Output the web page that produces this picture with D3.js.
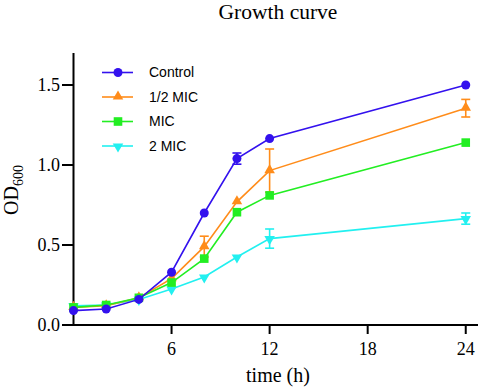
<!DOCTYPE html>
<html>
<head>
<meta charset="utf-8">
<script src="https://cdn.jsdelivr.net/npm/d3@7/dist/d3.min.js"></script>
<style>
  html, body { margin: 0; padding: 0; background: #fff; }
  svg { display: block; }
</style>
</head>
<body>
<svg id="chart" width="484" height="389"></svg>
<script>
// ---- data ----
const times = [0, 2, 4, 6, 8, 10, 12, 24];
const seriesNames = ["Control", "1/2 MIC", "MIC", "2 MIC"];
const controlValues = [0.09, 0.10, 0.16, 0.33, 0.70, 1.04, 1.165, 1.50];
const controlErrors = [0.01, 0.01, 0.01, 0.01, 0.01, 0.035, 0.01, 0.01];
const halfMicValues = [0.11, 0.12, 0.17, 0.29, 0.49, 0.77, 0.965, 1.355];
const halfMicErrors = [0.01, 0.01, 0.01, 0.01, 0.065, 0.01, 0.135, 0.055];
const micValues = [0.11, 0.125, 0.17, 0.265, 0.415, 0.705, 0.81, 1.14];
const micErrors = [0.01, 0.01, 0.01, 0.01, 0.01, 0.01, 0.01, 0.01];
const twoMicValues = [0.12, 0.125, 0.16, 0.225, 0.30, 0.425, 0.54, 0.665];
const twoMicErrors = [0.01, 0.01, 0.01, 0.01, 0.01, 0.01, 0.06, 0.035];
const yTicks = [0, 0.5, 1.0, 1.5];
const xTicks = [6, 12, 18, 24];
const titleText = "Growth curve";
const xTitle = "time (h)";

const colors = ["#3311ee", "#ff8c1a", "#22ee22", "#22f0f0"];
const shapes = [d3.symbolCircle, d3.symbolTriangle, d3.symbolSquare, "down"];

const series = [
  { name: seriesNames[0], values: controlValues, errors: controlErrors, color: colors[0], shape: shapes[0] },
  { name: seriesNames[1], values: halfMicValues, errors: halfMicErrors, color: colors[1], shape: shapes[1] },
  { name: seriesNames[2], values: micValues, errors: micErrors, color: colors[2], shape: shapes[2] },
  { name: seriesNames[3], values: twoMicValues, errors: twoMicErrors, color: colors[3], shape: shapes[3] }
];

const svg = d3.select("#chart");
const x = d3.scaleLinear().domain([0, 24.75]).range([73.5, 478]);
const y = d3.scaleLinear().domain([0, 1.7]).range([325, 53]);

function marker(g, s, cx, cy) {
  if (s.shape === d3.symbolCircle) {
    g.append("circle").attr("cx", cx).attr("cy", cy).attr("r", 4.5).attr("fill", s.color);
  } else if (s.shape === d3.symbolSquare) {
    g.append("rect").attr("x", cx - 4.3).attr("y", cy - 4.3).attr("width", 8.6).attr("height", 8.6).attr("fill", s.color);
  } else if (s.shape === d3.symbolTriangle) {
    g.append("path").attr("d", d3.symbol().type(d3.symbolTriangle).size(48)()).attr("transform", `translate(${cx},${cy - 0.5})`).attr("fill", s.color);
  } else {
    g.append("path").attr("d", d3.symbol().type(d3.symbolTriangle).size(48)()).attr("transform", `translate(${cx},${cy + 0.5}) rotate(180)`).attr("fill", s.color);
  }
}

// title
svg.append("text").attr("x", 278).attr("y", 19).attr("text-anchor", "middle")
  .attr("font-family", "Liberation Serif, Times New Roman, serif").attr("font-size", 21.5)
  .text(titleText);

// axes
const axisG = svg.append("g");
axisG.append("line").attr("x1", x(0)).attr("x2", x(0)).attr("y1", y(1.7)).attr("y2", y(0) + 1)
  .attr("stroke", "#000").attr("stroke-width", 2);
axisG.append("line").attr("x1", x(0) - 1).attr("x2", x(24.75)).attr("y1", y(0)).attr("y2", y(0))
  .attr("stroke", "#000").attr("stroke-width", 2);

yTicks.forEach(t => {
  axisG.append("line").attr("x1", 62).attr("x2", x(0)).attr("y1", y(t)).attr("y2", y(t))
    .attr("stroke", "#000").attr("stroke-width", 2);
  axisG.append("text").attr("x", 60).attr("y", y(t)).attr("dy", "0.34em").attr("text-anchor", "end")
    .attr("font-family", "Liberation Serif, Times New Roman, serif").attr("font-size", 18)
    .text(d3.format(".1f")(t));
});
xTicks.forEach(t => {
  axisG.append("line").attr("x1", x(t)).attr("x2", x(t)).attr("y1", y(0)).attr("y2", y(0) + 9)
    .attr("stroke", "#000").attr("stroke-width", 2);
  axisG.append("text").attr("x", x(t)).attr("y", 355).attr("text-anchor", "middle")
    .attr("font-family", "Liberation Serif, Times New Roman, serif").attr("font-size", 18)
    .text(t);
});

svg.append("text").attr("x", 278).attr("y", 382).attr("text-anchor", "middle")
  .attr("font-family", "Liberation Serif, Times New Roman, serif").attr("font-size", 20)
  .text(xTitle);

const yt = svg.append("text").attr("transform", "translate(18,190) rotate(-90)").attr("text-anchor", "middle")
  .attr("font-family", "Liberation Serif, Times New Roman, serif").attr("font-size", 20);
yt.append("tspan").text("OD");
yt.append("tspan").attr("font-size", 14).attr("dy", 5).text("600");

// series: draw order 2 MIC, 1/2 MIC, MIC, Control
const order = [3, 1, 2, 0];
const line = d3.line().x((d, i) => x(times[i])).y(d => y(d));
order.forEach(k => {
  const s = series[k];
  const g = svg.append("g");
  g.append("path").attr("d", line(s.values)).attr("fill", "none").attr("stroke", s.color).attr("stroke-width", 1.6);
  s.values.forEach((v, i) => {
    const e = s.errors[i];
    if (e > 0.015) {
      const cx = x(times[i]);
      g.append("line").attr("x1", cx).attr("x2", cx).attr("y1", y(v + e)).attr("y2", y(v - e)).attr("stroke", s.color).attr("stroke-width", 1.6);
      [v + e, v - e].forEach(w => {
        g.append("line").attr("x1", cx - 4.5).attr("x2", cx + 4.5).attr("y1", y(w)).attr("y2", y(w)).attr("stroke", s.color).attr("stroke-width", 1.6);
      });
    }
    marker(g, s, x(times[i]), y(v));
  });
});

// legend
const legendRows = [72.5, 97, 121.5, 146];
series.forEach((s, i) => {
  const g = svg.append("g");
  g.append("line").attr("x1", 102).attr("x2", 133).attr("y1", legendRows[i]).attr("y2", legendRows[i])
    .attr("stroke", s.color).attr("stroke-width", 1.6);
  marker(g, s, 118, legendRows[i]);
  g.append("text").attr("x", 149).attr("y", legendRows[i]).attr("dy", "0.35em")
    .attr("font-family", "Liberation Sans, Arial, sans-serif").attr("font-size", 14)
    .text(s.name);
});
</script>
</body>
</html>
